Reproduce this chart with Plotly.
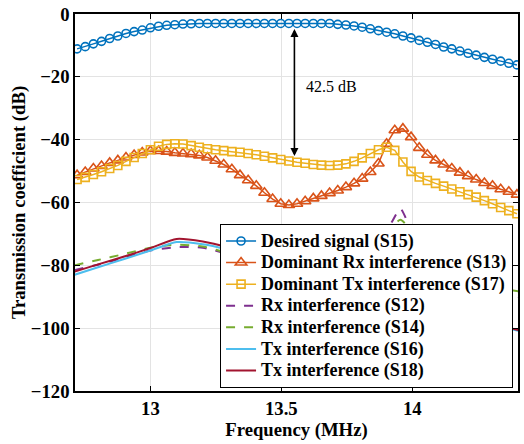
import numpy as np
import plotly.graph_objects as go

# Frequency sampling grid of the marked curves (MHz)
freq = np.round(np.linspace(12.72, 14.40, 55), 4)

desired_s15 = [-11.1, -10.4, -9.5, -8.7, -7.8, -7.0, -6.2, -5.6, -5.1, -4.4,
               -3.9, -3.6, -3.4, -3.2, -3.1, -3.0, -3.0, -3.0, -3.0, -3.0,
               -3.0, -3.0, -3.0, -3.0, -3.0, -3.0, -3.0, -3.0, -3.0, -3.0,
               -3.0, -3.0, -3.3, -3.5, -3.8, -4.2, -4.7, -5.3, -5.8, -6.3,
               -7.0, -7.6, -8.4, -9.0, -9.7, -10.5, -11.1, -11.8, -12.5, -13.1,
               -13.8, -14.4, -15.0, -15.7, -16.2]

dom_rx_s13 = [-51.3, -50.3, -49.2, -48.4, -47.4, -46.6, -45.7, -44.9, -44.1, -43.6,
              -43.6, -43.8, -44.2, -44.4, -44.6, -45.0, -45.7, -46.7, -47.9, -49.4,
              -51.3, -52.9, -54.7, -56.9, -58.9, -60.4, -60.8, -60.4, -59.6, -58.7,
              -57.9, -57.0, -56.2, -55.1, -53.9, -52.4, -50.3, -47.6, -41.3, -37.0,
              -36.5, -39.2, -42.6, -44.8, -46.6, -47.9, -49.2, -50.5, -51.6, -52.7,
              -53.8, -54.7, -55.8, -56.6, -57.5]

dom_tx_s17 = [-52.7, -52.0, -51.1, -50.2, -49.2, -48.2, -46.9, -45.7, -44.4, -43.2,
              -42.1, -41.5, -41.3, -41.4, -41.9, -42.4, -42.9, -43.2, -43.5, -43.8,
              -44.0, -44.4, -44.8, -45.3, -45.8, -46.3, -46.8, -47.2, -47.5, -47.9,
              -48.1, -48.2, -48.1, -47.7, -46.9, -45.8, -44.4, -43.2, -42.4, -43.4,
              -47.1, -50.1, -51.9, -53.0, -53.9, -54.8, -55.7, -56.6, -57.5, -58.3,
              -59.4, -60.4, -61.6, -62.6, -63.6]

# Weaker interference curves (plain lines)
freq_low = [12.71, 12.8, 12.9, 13.0, 13.1, 13.2, 13.3, 13.4, 13.5, 13.6,
            13.7, 13.8, 13.88, 13.92, 13.955, 13.99, 14.03, 14.1, 14.2, 14.3, 14.41]
rx_s12 = [-81.5, -79.8, -77.6, -75.3, -74.2, -74.4, -76.5, -79.0, -81.0, -82.0,
          -81.0, -78.0, -72.0, -66.5, -62.0, -68.0, -79.0, -84.0, -86.5, -88.5, -90.2]
rx_s14 = [-80.0, -78.3, -76.4, -74.4, -73.4, -74.0, -76.2, -78.5, -80.0, -80.5,
          -79.5, -76.5, -71.5, -68.0, -65.5, -68.5, -77.0, -82.0, -84.8, -86.8, -88.3]
tx_s16 = [-83.0, -80.6, -78.0, -75.3, -72.6, -73.3, -75.1, -77.5, -80.0, -82.5,
          -85.0, -87.5, -89.0, -89.8, -90.3, -90.8, -91.8, -93.8, -96.3, -98.6, -100.9]
tx_s18 = [-82.0, -79.7, -77.2, -74.5, -71.6, -72.4, -74.3, -76.8, -79.3, -81.8,
          -84.3, -86.8, -88.5, -89.3, -89.8, -90.3, -91.3, -93.4, -96.0, -98.4, -100.7]

y_ticks = [0, -20, -40, -60, -80, -100, -120]
x_ticks = [13, 13.5, 14]
x_tick_labels = ["13", "13.5", "14"]

SERIF = "Liberation Serif"
TXT = 18.7


def leg(name):
    # legend row height follows legend.font.size; the label itself is drawn larger
    return '<span style="font-size:18px"><b>%s</b></span>' % name


fig = go.Figure()
fig.add_trace(go.Scatter(x=freq, y=desired_s15, mode="lines+markers",
                         name=leg("Desired signal (S15)"),
                         line=dict(color="#0072BD", width=1.5),
                         marker=dict(symbol="circle-open", size=8, color="#0072BD",
                                     line=dict(width=1.6))))
fig.add_trace(go.Scatter(x=freq, y=dom_rx_s13, mode="lines+markers",
                         name=leg("Dominant Rx interference (S13)"),
                         line=dict(color="#D95319", width=1.5),
                         marker=dict(symbol="triangle-up-open", size=10, color="#D95319",
                                     line=dict(width=1.6))))
fig.add_trace(go.Scatter(x=freq, y=dom_tx_s17, mode="lines+markers",
                         name=leg("Dominant Tx interference (S17)"),
                         line=dict(color="#EDB120", width=1.5),
                         marker=dict(symbol="square-open", size=8, color="#EDB120",
                                     line=dict(width=1.6))))
fig.add_trace(go.Scatter(x=freq_low, y=rx_s12, mode="lines", name=leg("Rx interference (S12)"),
                         line=dict(color="#7E2F8E", width=2, dash="dash", shape="spline",
                                   smoothing=0.6)))
fig.add_trace(go.Scatter(x=freq_low, y=rx_s14, mode="lines", name=leg("Rx interference (S14)"),
                         line=dict(color="#77AC30", width=2, dash="dash", shape="spline",
                                   smoothing=0.6)))
fig.add_trace(go.Scatter(x=freq_low, y=tx_s16, mode="lines", name=leg("Tx interference (S16)"),
                         line=dict(color="#4DBEEE", width=2, shape="spline", smoothing=0.6)))
fig.add_trace(go.Scatter(x=freq_low, y=tx_s18, mode="lines", name=leg("Tx interference (S18)"),
                         line=dict(color="#A2142F", width=2, shape="spline", smoothing=0.6)))

# Double-headed arrow marking the 42.5 dB gap
fig.add_annotation(x=13.55, y=-45.2, ax=13.55, ay=-4.3, xref="x", yref="y",
                   axref="x", ayref="y", text="", showarrow=True,
                   arrowhead=2, startarrowhead=2, arrowside="end+start",
                   arrowsize=1, arrowwidth=1.6, arrowcolor="black")
fig.add_annotation(x=13.585, y=-23, xref="x", yref="y", text="42.5 dB",
                   showarrow=False, xanchor="left", yanchor="middle",
                   font=dict(family=SERIF, size=16, color="black"))

axis_common = dict(showline=True, linecolor="black", linewidth=1.5, mirror="ticks",
                   ticks="inside", ticklen=5, tickwidth=1.2, tickcolor="black",
                   showgrid=True, gridcolor="#e3e3e3", gridwidth=1, zeroline=False,
                   tickfont=dict(family=SERIF, size=TXT, color="black", weight="bold"))

fig.update_layout(
    width=524, height=444,
    margin=dict(l=75, r=4, t=13, b=53),
    paper_bgcolor="white", plot_bgcolor="white",
    font=dict(family=SERIF),
    xaxis=dict(range=[12.712, 14.404], tickvals=x_ticks, ticktext=x_tick_labels,
               title=dict(text="Frequency (MHz)", standoff=4,
                          font=dict(family=SERIF, size=TXT, color="black", weight="bold")),
               **axis_common),
    yaxis=dict(range=[-120, 0], tickvals=y_ticks,
               title=dict(text="Transmission coefficient (dB)", standoff=0,
                          font=dict(family=SERIF, size=TXT, color="black", weight="bold")),
               **axis_common),
    legend=dict(x=0.327, y=0.443, xanchor="left", yanchor="top",
                bgcolor="white", bordercolor="black", borderwidth=1.2,
                font=dict(family=SERIF, size=14.3, color="black"),
                itemwidth=30, tracegroupgap=0, traceorder="normal"),
    showlegend=True,
)

fig.write_html("out.html")
